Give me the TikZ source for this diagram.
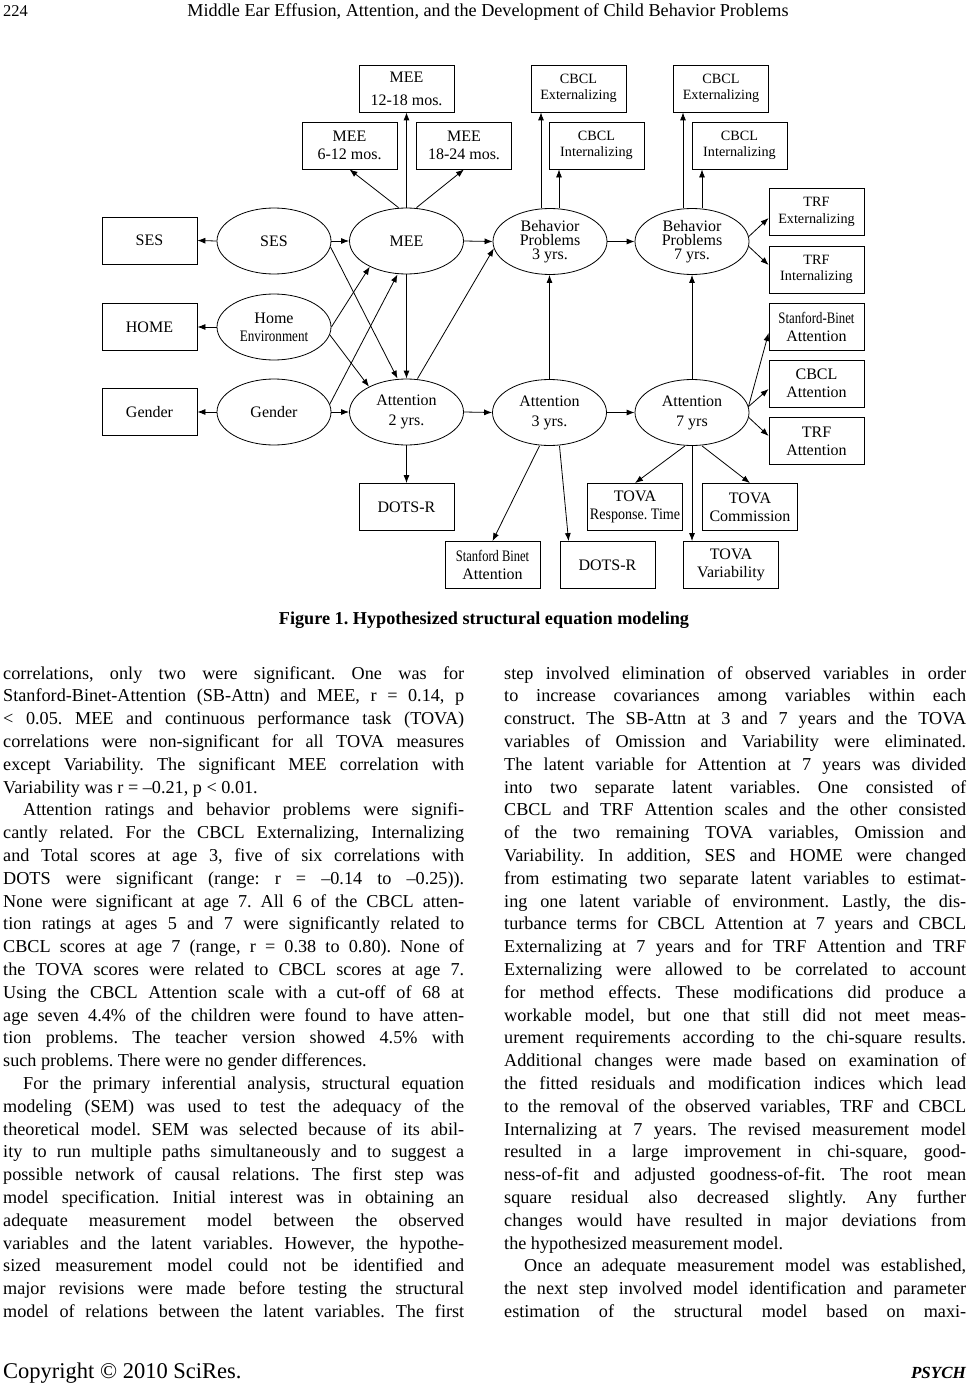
\documentclass[tikz,border=0pt]{standalone}
\usepackage{fontspec}
\usepackage{graphicx}
\setmainfont{Liberation Serif}
\usetikzlibrary{arrows.meta,shapes.geometric,calc}
\frenchspacing
\newcommand\dfont{\fontsize{16}{18}\selectfont}
\newcommand\sfont{\fontsize{14.2}{16.5}\selectfont}
\newcommand\bodyfont{\fontsize{18.2}{22.8}\selectfont}
\newcommand\lineY[1]{{679+(#1-1)*22.8}}
\newcommand\colLJ[3]{\node[txt] (#1) at (3,\lineY{#2}) {\makebox[461pt][s]{#3}};}
\newcommand\colLI[3]{\node[txt] (#1) at (23,\lineY{#2}) {\makebox[441pt][s]{#3}};}
\newcommand\colLL[3]{\node[txt] (#1) at (3,\lineY{#2}) {#3};}
\newcommand\colRJ[3]{\node[txt] (#1) at (504,\lineY{#2}) {\makebox[462pt][s]{#3}};}
\newcommand\colRI[3]{\node[txt] (#1) at (524,\lineY{#2}) {\makebox[442pt][s]{#3}};}
\newcommand\colRL[3]{\node[txt] (#1) at (504,\lineY{#2}) {#3};}
\begin{document}
\begin{tikzpicture}[x=1pt,y=-1pt,
  obs/.style={draw, line width=0.8pt, rectangle, minimum width=95pt, minimum height=47pt, inner sep=0pt, align=center, font=\dfont},
  obss/.style={obs, font=\sfont},
  lat/.style={draw, line width=0.8pt, ellipse, minimum width=114pt, minimum height=66pt, inner sep=0pt, align=center, font=\dfont},
  arr/.style={-{Latex[length=8pt,width=6pt]}, line width=0.8pt},
  txt/.style={anchor=base west, inner sep=0pt, font=\bodyfont},
]
\fill[white] (0,0) rectangle (970,1386);
\useasboundingbox (0,0) rectangle (970,1386);

% header
\node[anchor=base west, inner sep=0pt, font=\fontsize{16.5}{20}\selectfont] (pg) at (3,17) {224};
\node[anchor=base, inner sep=0pt, font=\bodyfont] (title) at (488,17) {Middle Ear Effusion, Attention, and the Development of Child Behavior Problems};

% observed boxes
\node[obs] (mA) at (406.5,88.5) {MEE\\[5pt]12-18 mos.};
\node[obs] (mB) at (349.5,145.5) {MEE\\6-12 mos.};
\node[obs] (mC) at (464,145.5) {MEE\\18-24 mos.};
\node[obss] (ce1) at (578.5,88.5) {CBCL\\Externalizing};
\node[obss] (ci1) at (596.5,145.5) {CBCL\\Internalizing};
\node[obss] (ce2) at (721,88.5) {CBCL\\Externalizing};
\node[obss] (ci2) at (739.5,145.5) {CBCL\\Internalizing};
\node[obss] (te) at (816.5,212) {TRF\\Externalizing};
\node[obss] (ti) at (816.5,269.5) {TRF\\Internalizing};
\node[obs] (sbr) at (816.5,327) {\scalebox{0.8}[1]{Stanford-Binet}\\Attention};
\node[obs] (ca) at (816.5,383.5) {CBCL\\Attention};
\node[obs] (ta) at (816.5,441) {TRF\\Attention};
\node[obs] (sesb) at (149.5,240.5) {SES};
\node[obs] (homeb) at (149.5,327) {HOME};
\node[obs] (genb) at (149.5,412) {Gender};
\node[obs] (d1) at (406.5,507) {DOTS-R};
\node[obs] (trt) at (635,507) {TOVA\\\scalebox{0.88}[1]{Response. Time}};
\node[obs] (tc) at (750,507) {TOVA\\Commission};
\node[obs] (sbb) at (492.5,565) {\scalebox{0.78}[1]{Stanford Binet}\\Attention};
\node[obs] (d2) at (607.5,565) {DOTS-R};
\node[obs] (tv) at (731,565) {TOVA\\Variability};

% latent ellipses
\node[lat] (sesE) at (274,241) {SES};
\node[lat] (meeE) at (406.5,241) {MEE};
\node[lat, font=\fontsize{16}{14}\selectfont] (b3) at (550,241.5) {Behavior\\Problems\\3 yrs.};
\node[lat, font=\fontsize{16}{14}\selectfont] (b7) at (692,241.5) {Behavior\\Problems\\7 yrs.};
\node[lat] (homeE) at (274,327) {Home\\\scalebox{0.82}[1]{Environment}};
\node[lat] (genE) at (274,412) {Gender};
\node[lat, font=\fontsize{16}{20}\selectfont] (a2) at (406.5,412) {Attention\\2 yrs.};
\node[lat, font=\fontsize{16}{20}\selectfont] (a3) at (549.5,412.5) {Attention\\3 yrs.};
\node[lat, font=\fontsize{16}{20}\selectfont] (a7) at (692,412.5) {Attention\\7 yrs};

% connectors: latent -> indicators
\draw[arr] (sesE.west) -- (sesb.east);
\draw[arr] (homeE.west) -- (homeb.east);
\draw[arr] (genE.west) -- (genb.east);
\coordinate (mee1) at ($(meeE.north)+(-8,0)$);
\coordinate (mee3) at ($(meeE.north)+(10,0)$);
\draw[arr] (mee1) -- (mB.south);
\draw[arr] (meeE.north) -- (meeE.north |- mA.south);
\draw[arr] (mee3) -- (mC.south);
\coordinate (b3a) at ($(b3.north)+(-9,0)$);
\coordinate (b3b) at ($(b3.north)+(9,0)$);
\coordinate (b7a) at ($(b7.north)+(-9,0)$);
\coordinate (b7b) at ($(b7.north)+(10,0)$);
\draw[arr] (b3a) -- (b3a |- ce1.south);
\draw[arr] (b3b) -- (b3b |- ci1.south);
\draw[arr] (b7a) -- (b7a |- ce2.south);
\draw[arr] (b7b) -- (b7b |- ci2.south);
\draw[arr] (b7.5) -- ([yshift=-6pt]te.west);
\draw[arr] (b7.-5) -- ([yshift=4.5pt]ti.west);
\draw[arr] (a7.6) -- ([yshift=-6pt]sbr.west);
\draw[arr] (a7.6) -- ([yshift=-5.5pt]ca.west);
\draw[arr] (a7.-5) -- ([yshift=5pt]ta.west);
\draw[arr] (a2.south) -- (a2.south |- d1.north);
\coordinate (a3l) at ($(a3.south)+(-10,0)$);
\coordinate (a3r) at ($(a3.south)+(10,0)$);
\draw[arr] (a3l) -- (sbb.north);
\draw[arr] (a3r) -- ([xshift=9pt]d2.north west);
\coordinate (a7l) at ($(a7.south)+(-7,0)$);
\coordinate (a7r) at ($(a7.south)+(10,0)$);
\draw[arr] (a7l) -- (trt.north);
\draw[arr] (a7.south) -- (a7.south |- tv.north);
\draw[arr] (a7r) -- (tc.north);

% structural paths
\draw[arr] (sesE.east) -- (meeE.west);
\draw[arr] (genE.east) -- (a2.west);
\draw[arr] (meeE.east) -- (b3.west);
\draw[arr] (a2.east) -- (a3.west);
\draw[arr] (a3.east) -- (a7.west);
\draw[arr] (b3.east) -- (b7.west);
\draw[arr] (meeE.south) -- (meeE.south |- a2.north);
\draw[arr] (a3.north) -- (a3.north |- b3.south);
\draw[arr] (a7.north) -- (a7.north |- b7.south);
\coordinate (a2t) at ($(a2.north)+(11,0)$);
\draw[arr] (a2t) -- (b3.187);
\coordinate (a2tl) at ($(a2.north)+(-9,0)$);
\draw[arr] (sesE.-6) -- (a2tl);
\draw[arr] (homeE.east) -- (meeE.215);
\draw[arr] (homeE.-8) -- (a2.146);
\coordinate (meebl) at ($(meeE.south)+(-9,0)$);
\draw[arr] (genE.8) -- (meebl);

% caption
\node[anchor=base, inner sep=0pt, font=\bodyfont\bfseries] (cap) at (484,624) {Figure 1. Hypothesized structural equation modeling};

% left column
\colLJ{l1}{1}{correlations, only two were significant. One was for}
\colLJ{l2}{2}{Stanford-Binet-Attention (SB-Attn) and MEE, r = 0.14, p}
\colLJ{l3}{3}{< 0.05. MEE and continuous performance task (TOVA)}
\colLJ{l4}{4}{correlations were non-significant for all TOVA measures}
\colLJ{l5}{5}{except Variability. The significant MEE correlation with}
\colLL{l6}{6}{Variability was r = –0.21, p < 0.01.}
\colLI{l7}{7}{Attention ratings and behavior problems were signifi-}
\colLJ{l8}{8}{cantly related. For the CBCL Externalizing, Internalizing}
\colLJ{l9}{9}{and Total scores at age 3, five of six correlations with}
\colLJ{l10}{10}{DOTS were significant (range: r = –0.14 to –0.25)).}
\colLJ{l11}{11}{None were significant at age 7. All 6 of the CBCL atten-}
\colLJ{l12}{12}{tion ratings at ages 5 and 7 were significantly related to}
\colLJ{l13}{13}{CBCL scores at age 7 (range, r = 0.38 to 0.80). None of}
\colLJ{l14}{14}{the TOVA scores were related to CBCL scores at age 7.}
\colLJ{l15}{15}{Using the CBCL Attention scale with a cut-off of 68 at}
\colLJ{l16}{16}{age seven 4.4\% of the children were found to have atten-}
\colLJ{l17}{17}{tion problems. The teacher version showed 4.5\% with}
\colLL{l18}{18}{such problems. There were no gender differences.}
\colLI{l19}{19}{For the primary inferential analysis, structural equation}
\colLJ{l20}{20}{modeling (SEM) was used to test the adequacy of the}
\colLJ{l21}{21}{theoretical model. SEM was selected because of its abil-}
\colLJ{l22}{22}{ity to run multiple paths simultaneously and to suggest a}
\colLJ{l23}{23}{possible network of causal relations. The first step was}
\colLJ{l24}{24}{model specification. Initial interest was in obtaining an}
\colLJ{l25}{25}{adequate measurement model between the observed}
\colLJ{l26}{26}{variables and the latent variables. However, the hypothe-}
\colLJ{l27}{27}{sized measurement model could not be identified and}
\colLJ{l28}{28}{major revisions were made before testing the structural}
\colLJ{l29}{29}{model of relations between the latent variables. The first}

% right column
\colRJ{r1}{1}{step involved elimination of observed variables in order}
\colRJ{r2}{2}{to increase covariances among variables within each}
\colRJ{r3}{3}{construct. The SB-Attn at 3 and 7 years and the TOVA}
\colRJ{r4}{4}{variables of Omission and Variability were eliminated.}
\colRJ{r5}{5}{The latent variable for Attention at 7 years was divided}
\colRJ{r6}{6}{into two separate latent variables. One consisted of}
\colRJ{r7}{7}{CBCL and TRF Attention scales and the other consisted}
\colRJ{r8}{8}{of the two remaining TOVA variables, Omission and}
\colRJ{r9}{9}{Variability. In addition, SES and HOME were changed}
\colRJ{r10}{10}{from estimating two separate latent variables to estimat-}
\colRJ{r11}{11}{ing one latent variable of environment. Lastly, the dis-}
\colRJ{r12}{12}{turbance terms for CBCL Attention at 7 years and CBCL}
\colRJ{r13}{13}{Externalizing at 7 years and for TRF Attention and TRF}
\colRJ{r14}{14}{Externalizing were allowed to be correlated to account}
\colRJ{r15}{15}{for method effects. These modifications did produce a}
\colRJ{r16}{16}{workable model, but one that still did not meet meas-}
\colRJ{r17}{17}{urement requirements according to the chi-square results.}
\colRJ{r18}{18}{Additional changes were made based on examination of}
\colRJ{r19}{19}{the fitted residuals and modification indices which lead}
\colRJ{r20}{20}{to the removal of the observed variables, TRF and CBCL}
\colRJ{r21}{21}{Internalizing at 7 years. The revised measurement model}
\colRJ{r22}{22}{resulted in a large improvement in chi-square, good-}
\colRJ{r23}{23}{ness-of-fit and adjusted goodness-of-fit. The root mean}
\colRJ{r24}{24}{square residual also decreased slightly. Any further}
\colRJ{r25}{25}{changes would have resulted in major deviations from}
\colRL{r26}{26}{the hypothesized measurement model.}
\colRI{r27}{27}{Once an adequate measurement model was established,}
\colRJ{r28}{28}{the next step involved model identification and parameter}
\colRJ{r29}{29}{estimation of the structural model based on maxi-}

% footer
\node[anchor=base west, inner sep=0pt, font=\fontsize{22.5}{26}\selectfont] (foot) at (3,1378) {Copyright © 2010 SciRes.};
\node[anchor=base east, inner sep=0pt, font=\fontsize{17}{20}\selectfont\bfseries\itshape] (jr) at (966,1378) {PSYCH};
\end{tikzpicture}
\end{document}
